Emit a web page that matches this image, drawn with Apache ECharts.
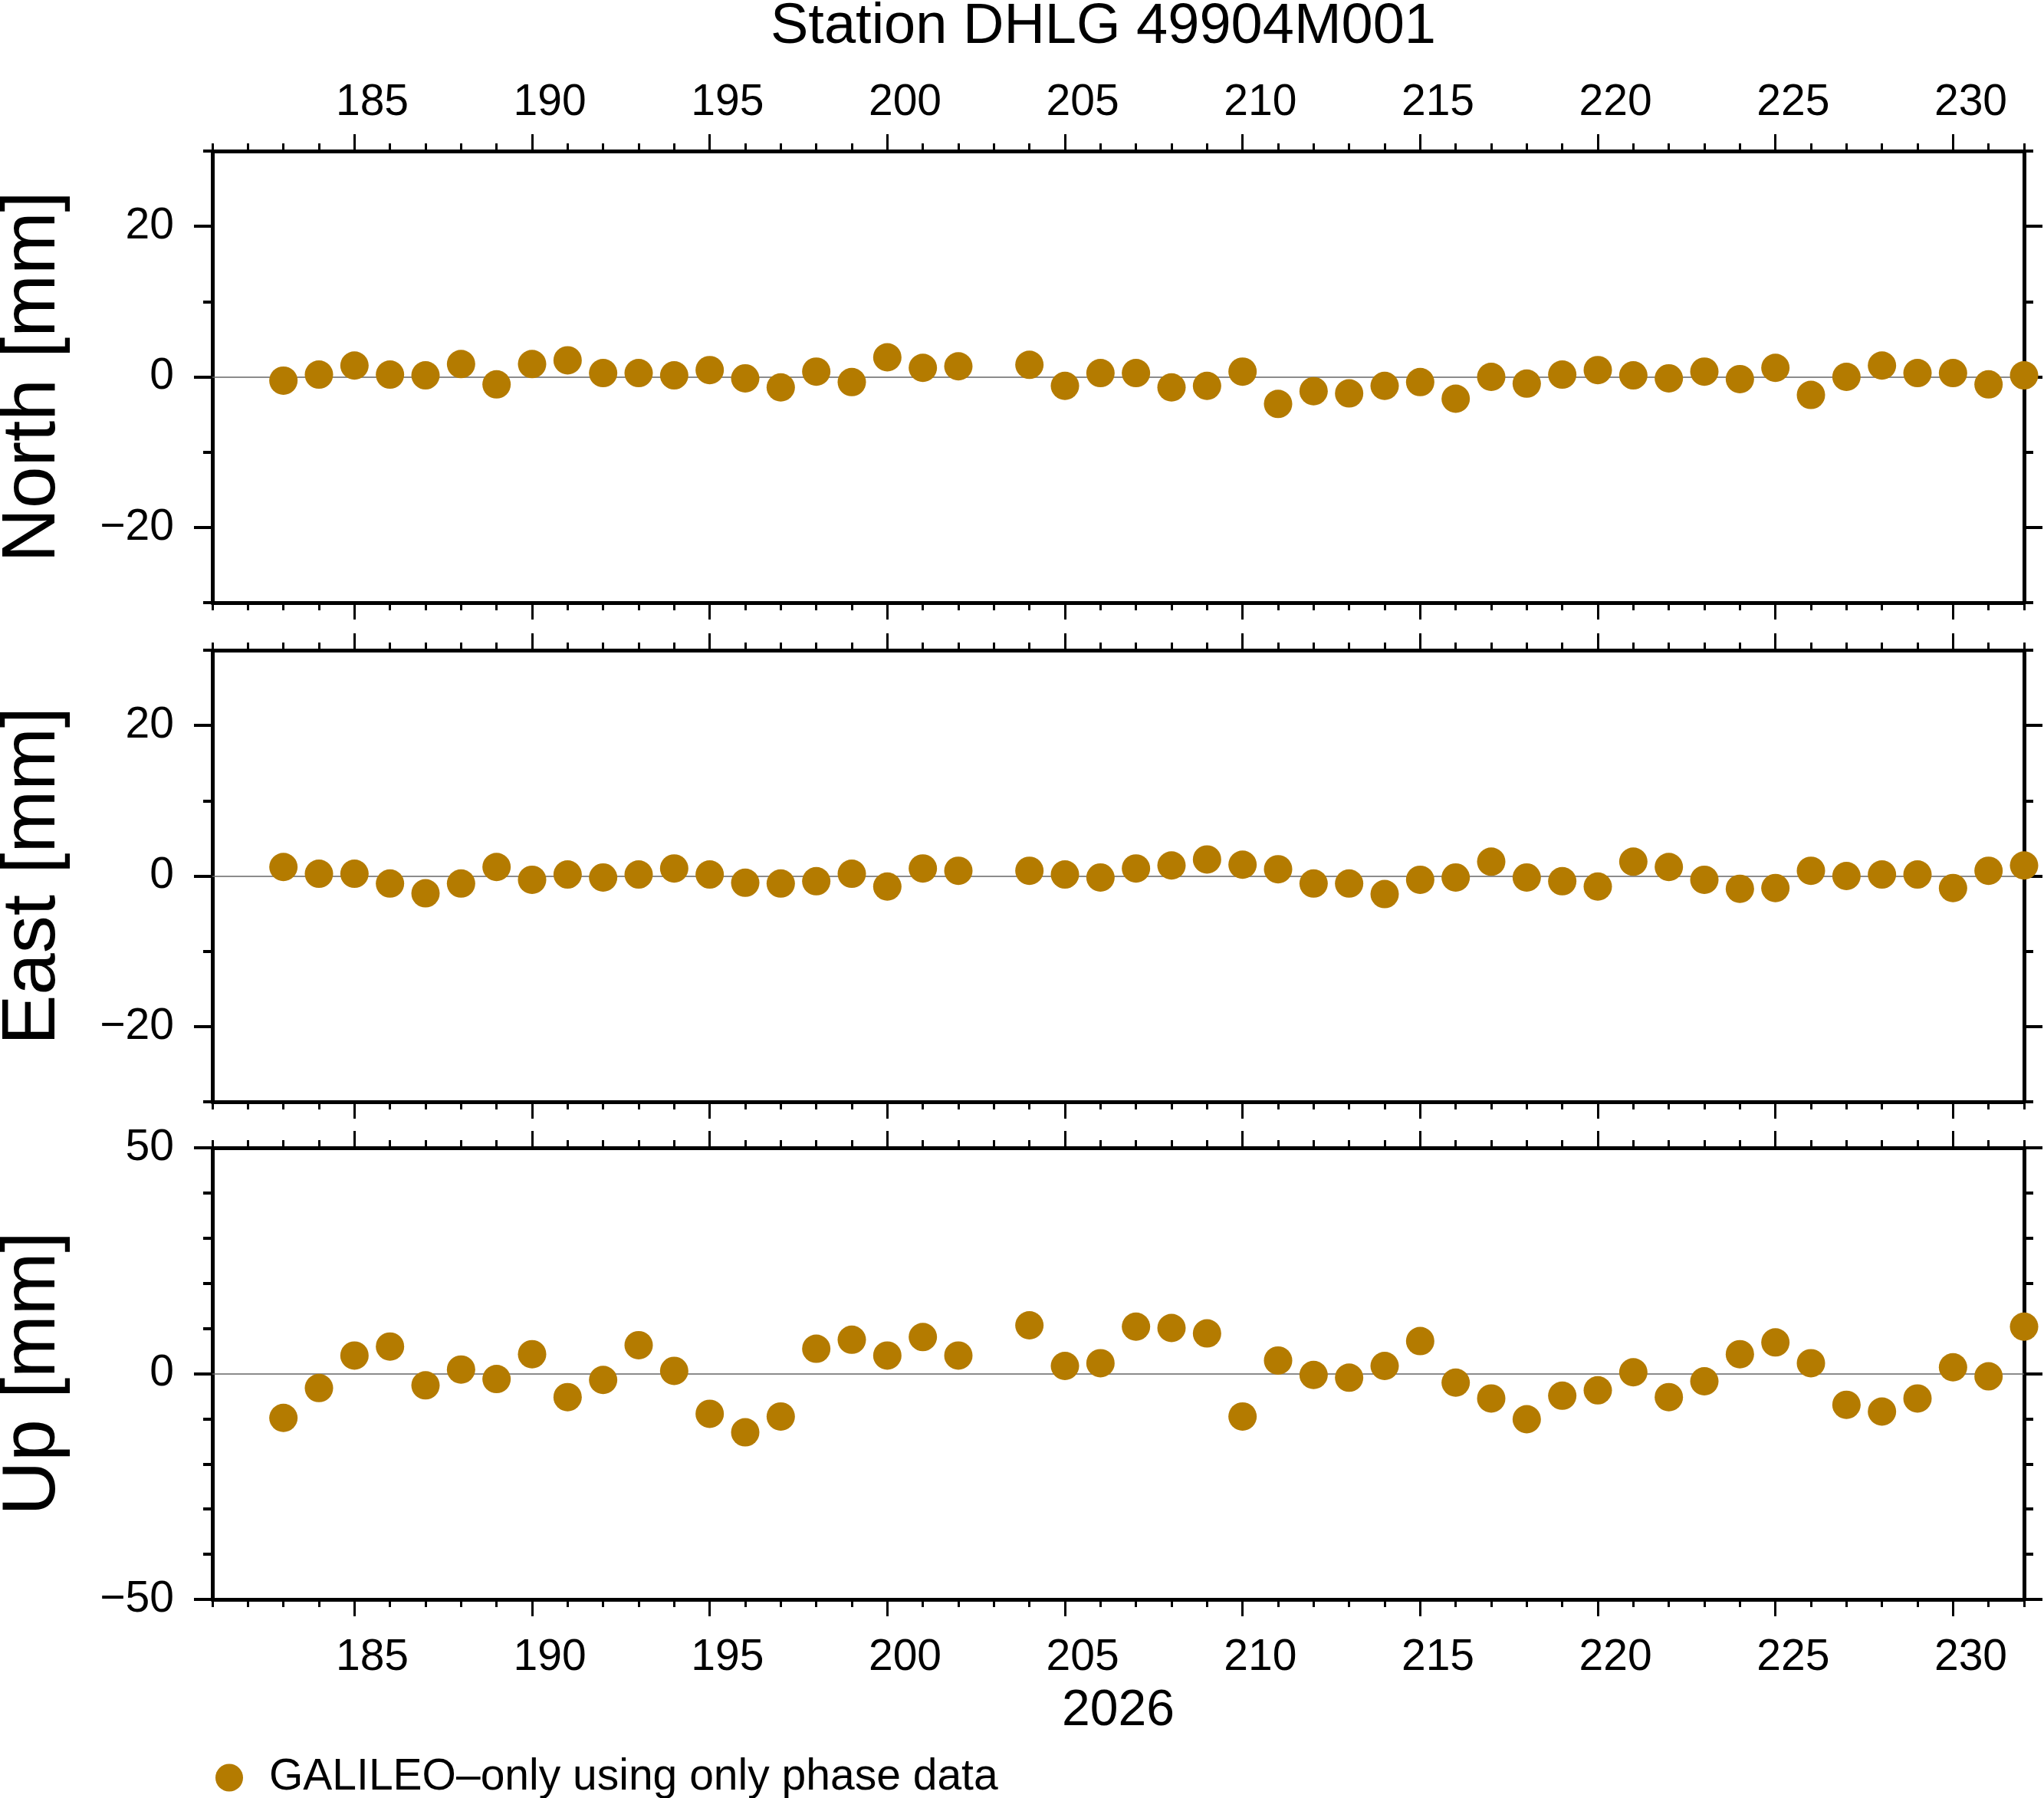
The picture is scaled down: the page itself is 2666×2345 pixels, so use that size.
<!DOCTYPE html>
<html>
<head>
<meta charset="utf-8">
<script src="https://cdn.jsdelivr.net/npm/echarts@6/dist/echarts.min.js"></script>
<style>
  html, body { margin: 0; padding: 0; background: #fff; }
  #main { width: 2666px; height: 2345px; }
</style>
</head>
<body>
<div id="main"></div>
<script>
// day of year 2026 (no solution on day 203)
const days = [183, 184, 185, 186, 187, 188, 189, 190, 191, 192, 193, 194, 195, 196, 197, 198, 199, 200, 201, 202,
  204, 205, 206, 207, 208, 209, 210, 211, 212, 213, 214, 215, 216, 217, 218, 219, 220, 221, 222, 223, 224, 225,
  226, 227, 228, 229, 230, 231, 232];

const north = [-0.5, 0.3, 1.5, 0.3, 0.2, 1.7, -1.0, 1.7, 2.2, 0.5, 0.5, 0.2, 0.9, -0.2, -1.4, 0.7, -0.7, 2.6, 1.2, 1.4,
  1.6, -1.2, 0.5, 0.5, -1.4, -1.2, 0.7, -3.6, -1.9, -2.2, -1.2, -0.7, -2.9, 0.0, -0.9, 0.3, 0.9, 0.2, -0.2, 0.7, -0.3, 1.2,
  -2.4, 0.0, 1.5, 0.5, 0.5, -1.0, 0.2];

const east = [1.2, 0.3, 0.3, -1.0, -2.3, -1.0, 1.2, -0.5, 0.2, -0.2, 0.2, 1.0, 0.2, -0.9, -1.0, -0.7, 0.3, -1.4, 1.0, 0.7,
  0.7, 0.2, -0.2, 1.0, 1.4, 2.2, 1.5, 0.9, -1.0, -1.0, -2.4, -0.5, -0.2, 1.9, -0.2, -0.7, -1.4, 1.9, 1.2, -0.5, -1.7, -1.6,
  0.7, 0.0, 0.2, 0.2, -1.6, 0.7, 1.4];

const up = [-9.8, -3.2, 4.0, 6.0, -2.6, 0.9, -1.2, 4.3, -5.2, -1.4, 6.3, 0.6, -8.9, -13.0, -9.5, 5.5, 7.5, 4.0, 8.1, 4.0,
  10.7, 1.7, 2.3, 10.4, 10.1, 8.9, -9.5, 2.9, -0.3, -0.9, 1.7, 7.2, -2.0, -5.5, -10.1, -4.9, -3.7, 0.3, -5.2, -1.7, 4.3, 6.9,
  2.3, -6.9, -8.4, -5.5, 1.4, -0.6, 10.4];

const xMajor = [185, 190, 195, 200, 205, 210, 215, 220, 225, 230];
const xMinor = [181, 182, 183, 184, 185, 186, 187, 188, 189, 190, 191, 192, 193, 194, 195, 196, 197, 198, 199, 200,
  201, 202, 203, 204, 205, 206, 207, 208, 209, 210, 211, 212, 213, 214, 215, 216, 217, 218, 219, 220, 221, 222, 223,
  224, 225, 226, 227, 228, 229, 230, 231, 232];
// day labels sit in the middle of the day
const xLabelPos = [185.5, 190.5, 195.5, 200.5, 205.5, 210.5, 215.5, 220.5, 225.5, 230.5];

const nePanelTicks = [-20, 0, 20];
const neMinorTicks = [-30, -20, -10, 0, 10, 20, 30];
const upPanelTicks = [-50, 0, 50];
const upMinorTicks = [-50, -40, -30, -20, -10, 0, 10, 20, 30, 40, 50];

const panels = [
  { name: 'North [mm]', values: north, range: 30, major: nePanelTicks, minor: neMinorTicks },
  { name: 'East [mm]', values: east, range: 30, major: nePanelTicks, minor: neMinorTicks },
  { name: 'Up [mm]', values: up, range: 50, major: upPanelTicks, minor: upMinorTicks }
];

const seriesName = 'GALILEO\u2013only using only phase data';
const dotColor = '#b47b00';
const font = 'Liberation Sans';
const gridTops = [197, 848, 1497];

const minus = v => String(v).replace('-', '\u2212');

var grid = [], xAxis = [], yAxis = [], series = [];

panels.forEach(function (p, i) {
  grid.push({ left: 277, right: 26, top: gridTops[i], height: 589, containLabel: false, outerBoundsMode: 'none' });

  // x axes: bottom major, bottom minor, top major, top minor
  ['bottom', 'top'].forEach(function (pos) {
    const withLabel = (pos === 'top' && i === 0) || (pos === 'bottom' && i === 2);
    xAxis.push({
      type: 'value', gridIndex: i, position: pos, min: 181, max: 232,
      name: (pos === 'bottom' && i === 2) ? '2026' : '',
      nameLocation: 'middle', nameGap: 113,
      nameTextStyle: { fontFamily: font, fontSize: 66, color: '#000' },
      axisLine: { show: true, onZero: false, lineStyle: { color: '#000', width: 5 } },
      axisTick: { show: true, customValues: xMajor, length: 22, lineStyle: { color: '#000', width: 3 } },
      axisLabel: {
        show: withLabel, customValues: xLabelPos, formatter: v => String(Math.floor(v)),
        margin: pos === 'top' ? 34 : 48, fontFamily: font, fontSize: 57, color: '#000'
      },
      splitLine: { show: false }
    });
    xAxis.push({
      type: 'value', gridIndex: i, position: pos, min: 181, max: 232,
      axisLine: { show: false, onZero: false },
      axisTick: { show: true, customValues: xMinor, length: 10, lineStyle: { color: '#000', width: 3 } },
      axisLabel: { show: false },
      splitLine: { show: false }
    });
  });

  // y axes: left major, left minor, right major, right minor
  ['left', 'right'].forEach(function (pos) {
    yAxis.push({
      type: 'value', gridIndex: i, position: pos, min: -p.range, max: p.range,
      name: pos === 'left' ? p.name : '',
      nameLocation: 'middle', nameGap: 184,
      nameTextStyle: { fontFamily: font, fontSize: 98, color: '#000' },
      axisLine: { show: true, onZero: false, lineStyle: { color: '#000', width: 5 } },
      axisTick: { show: true, customValues: p.major, length: 24, lineStyle: { color: '#000', width: 4 } },
      axisLabel: {
        show: pos === 'left', customValues: p.major, formatter: minus,
        margin: 50, fontFamily: font, fontSize: 57, color: '#000'
      },
      splitLine: { show: false }
    });
    yAxis.push({
      type: 'value', gridIndex: i, position: pos, min: -p.range, max: p.range,
      axisLine: { show: false, onZero: false },
      axisTick: { show: true, customValues: p.minor, length: 12, lineStyle: { color: '#000', width: 4 } },
      axisLabel: { show: false },
      splitLine: { show: false }
    });
  });

  series.push({
    name: seriesName,
    type: 'scatter',
    xAxisIndex: i * 4,
    yAxisIndex: i * 4,
    data: days.map((d, k) => [d, p.values[k]]),
    symbol: 'circle',
    symbolSize: 37,
    clip: false,
    z: 5,
    itemStyle: { color: dotColor, opacity: 1 },
    markLine: {
      silent: true, symbol: 'none', z: 1,
      label: { show: false },
      lineStyle: { color: '#666', width: 1.5, type: 'solid' },
      data: [{ yAxis: 0 }]
    }
  });
});

var chart = echarts.init(document.getElementById('main'), null, { renderer: 'canvas' });
chart.setOption({
  animation: false,
  backgroundColor: '#fff',
  textStyle: { fontFamily: font },
  title: {
    text: 'Station DHLG 49904M001',
    left: 1434, top: -6, textAlign: 'center',
    textStyle: { fontFamily: font, fontSize: 74, fontWeight: 'normal', color: '#000' }
  },
  legend: {
    data: [seriesName],
    left: 276, top: 2285,
    icon: 'circle', itemWidth: 36, itemHeight: 36,
    textStyle: { fontFamily: font, fontSize: 57, color: '#000', padding: [0, 0, 0, 29] }
  },
  grid: grid,
  xAxis: xAxis,
  yAxis: yAxis,
  series: series
});
</script>
</body>
</html>
